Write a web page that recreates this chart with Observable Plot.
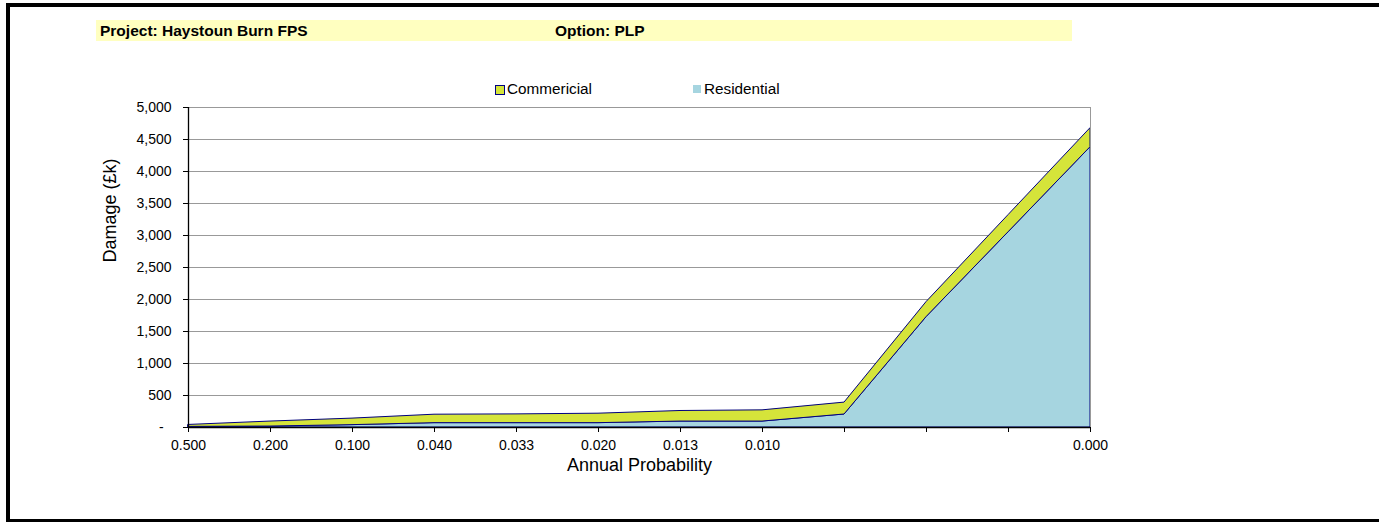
<!DOCTYPE html>
<html>
<head>
<meta charset="utf-8">
<script src="https://cdn.jsdelivr.net/npm/d3@7"></script>
<script src="https://cdn.jsdelivr.net/npm/@observablehq/plot@0.6"></script>
<style>
  html, body { margin: 0; padding: 0; background: #fff; }
  #page { position: relative; width: 1379px; height: 522px; overflow: hidden; font-family: "Liberation Sans", Arial, sans-serif; }
  #border { position: absolute; left: 6px; top: 3px; width: 1420px; height: 520px; box-sizing: border-box; border: 4px solid #000; }
  #band { position: absolute; left: 96px; top: 20px; width: 976px; height: 21px; background: #FFFFC0; }
  .hdr { position: absolute; top: 20px; line-height: 21px; font-weight: bold; font-size: 15.5px; color: #000; white-space: nowrap; }
  .leg { position: absolute; top: 79px; line-height: 20px; font-size: 15.3px; color: #000; white-space: nowrap; }
  .sw { position: absolute; box-sizing: border-box; }
  #chart { position: absolute; left: 0; top: 0; }
</style>
</head>
<body>
<div id="page">
  <div id="border"></div>
  <div id="band"></div>
  <div class="hdr" style="left:100px">Project: Haystoun Burn FPS</div>
  <div class="hdr" style="left:555px">Option: PLP</div>
  <div class="sw" style="left:495px;top:85px;width:10px;height:10px;background:#D5E43A;border:1.5px solid #000080"></div>
  <div class="leg" style="left:507px">Commericial</div>
  <div class="sw" style="left:693px;top:85px;width:8px;height:8px;background:#A6D5E0"></div>
  <div class="leg" style="left:704px">Residential</div>
  <div id="chart"></div>
</div>
<script>
const categories = ["0.500","0.200","0.100","0.040","0.033","0.020","0.013","0.010","","","","0.000"];
const seriesNames = ["Commercial","Residential"];
const residential = [10, 15, 37, 68, 68, 68, 93, 93, 203, 1724, 3050, 4379];
const commercial = [30, 78, 102, 132, 137, 148, 165, 175, 186, 235, 268, 298];
const yTicks = [0, 500, 1000, 1500, 2000, 2500, 3000, 3500, 4000, 4500, 5000];

const rows = [];
categories.forEach((c, i) => {
  rows.push({i, series: "Residential", value: residential[i]});
  rows.push({i, series: "Commercial", value: commercial[i]});
});

const fmt = d3.format(",");
const chart = Plot.plot({
  width: 1379,
  height: 522,
  marginLeft: 188,
  marginRight: 289,
  marginTop: 107,
  marginBottom: 95,
  style: {fontFamily: "'Liberation Sans', Arial, sans-serif", fontSize: "14px", color: "#000", background: "transparent", overflow: "visible"},
  x: {type: "linear", domain: [0, categories.length - 1]},
  y: {domain: [0, 5000]},
  color: {domain: seriesNames, range: ["#D5E43A", "#A6D5E0"]},
  marks: [
    Plot.ruleY(yTicks.filter(d => d > 0), {stroke: "#999", strokeWidth: 1}),
    Plot.areaY(rows, {x: "i", y: "value", fill: "series", stroke: "#000080", strokeWidth: 1, order: ["Residential", "Commercial"]}),
    Plot.ruleX([categories.length - 1], {stroke: "#999", strokeWidth: 1}),
    Plot.ruleX([0], {stroke: "#000", strokeWidth: 1.3}),
    Plot.ruleY([0], {stroke: "#000", strokeWidth: 1.3}),
    Plot.axisY({ticks: yTicks, tickSize: 5, tickPadding: 12, label: null, stroke: "#000",
      tickFormat: d => d === 0 ? "-\u00a0\u00a0" : fmt(d), fontSize: 14}),
    Plot.axisX({ticks: d3.range(categories.length), tickSize: 5, tickPadding: 8, label: null, stroke: "#000",
      tickFormat: i => categories[i], fontSize: 14}),
    Plot.text(["Annual Probability"], {frameAnchor: "bottom", text: d => d, dy: 43, fontSize: 18, fill: "#000"}),
    Plot.text(["Damage (£k)"], {frameAnchor: "left", text: d => d, rotate: -90, dx: -78, dy: -5, fontSize: 18, fill: "#000"})
  ]
});
document.getElementById("chart").appendChild(chart);
</script>
</body>
</html>
